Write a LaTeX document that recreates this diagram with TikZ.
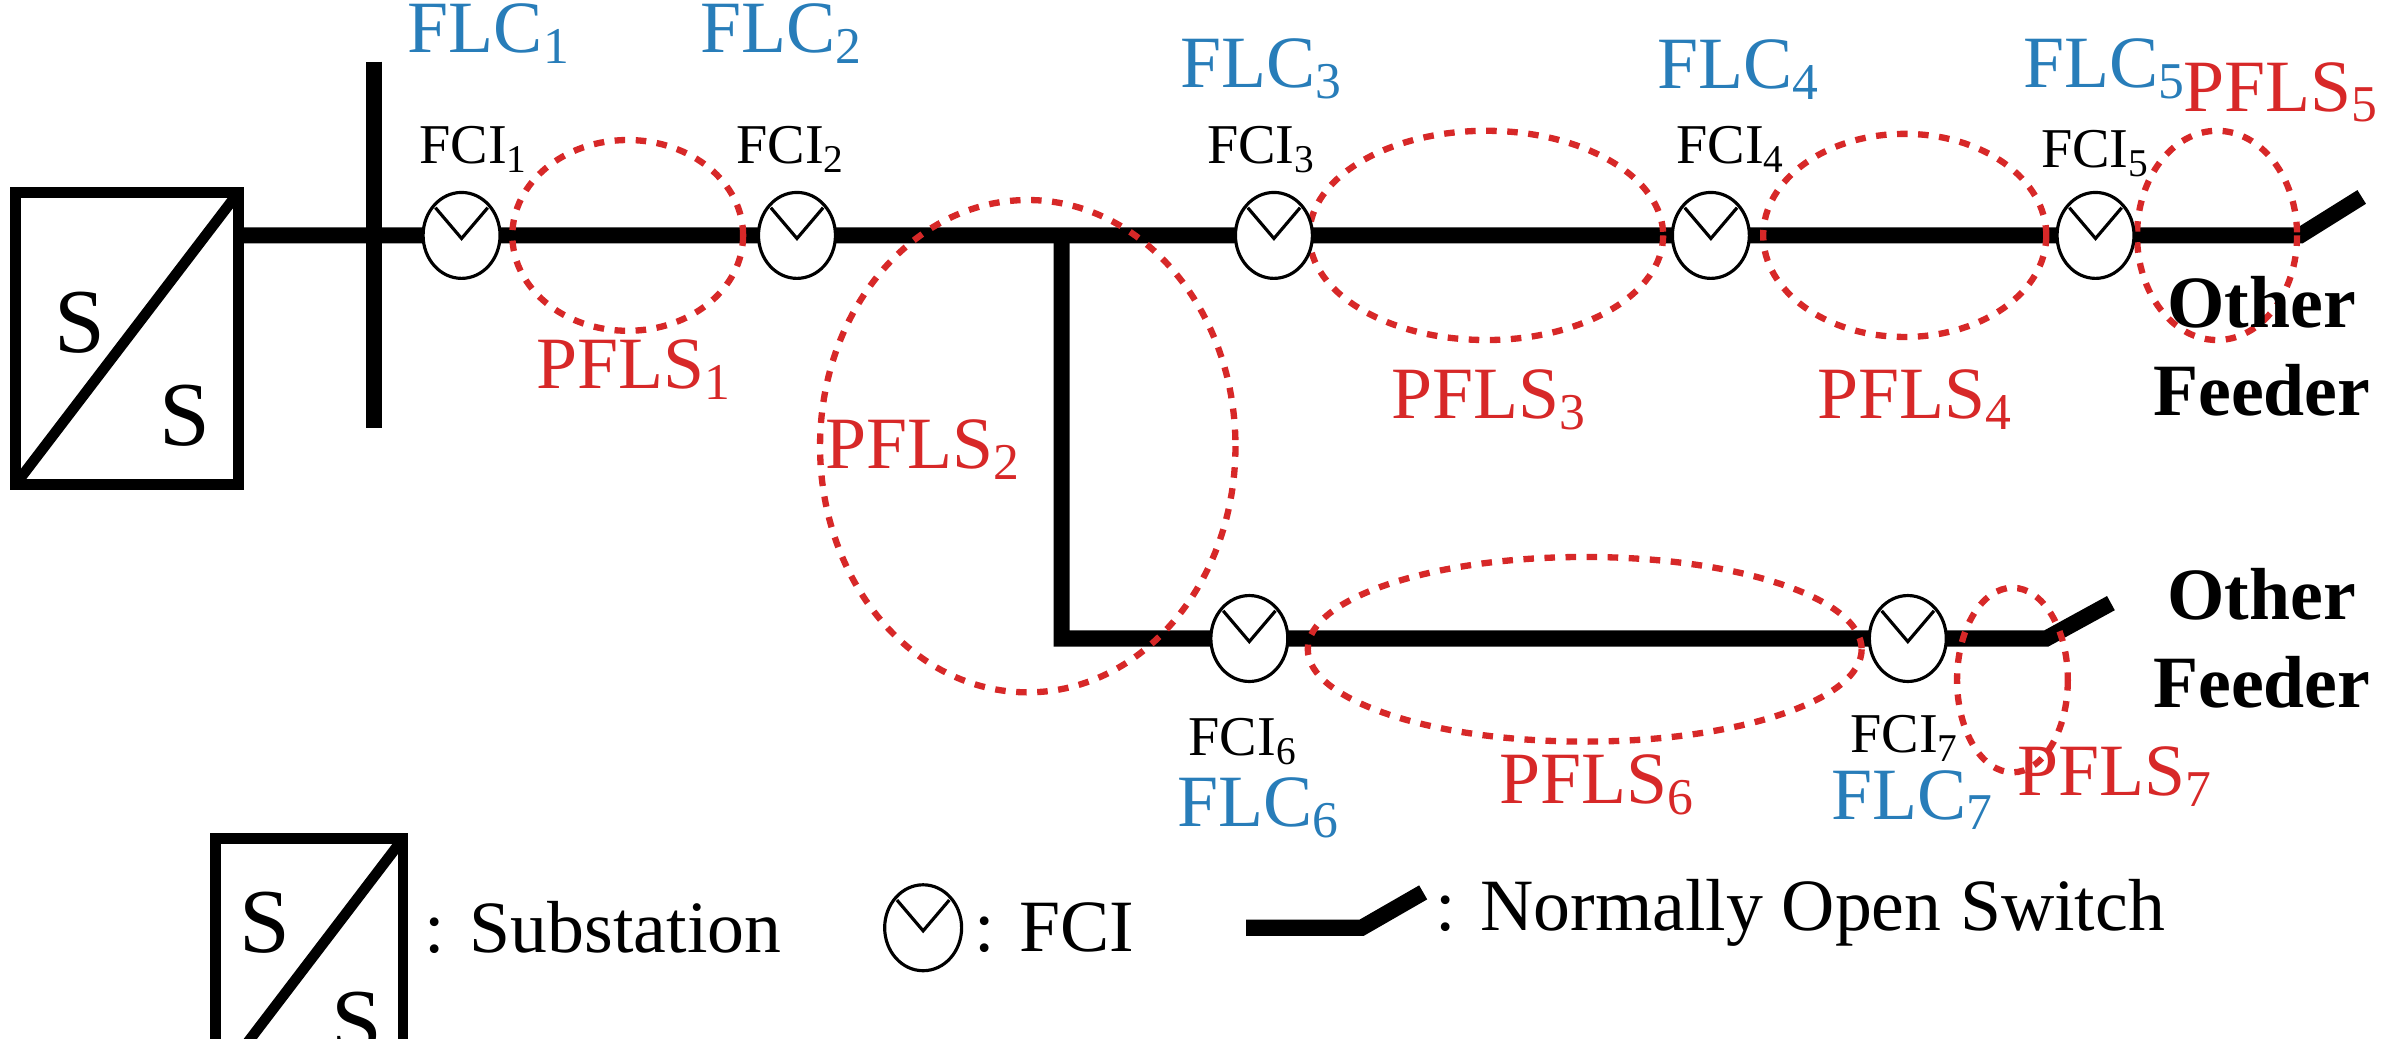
\documentclass[tikz,border=0pt]{standalone}
\usepackage{fontspec}
\setmainfont{Liberation Serif}
\usetikzlibrary{shapes.geometric,calc}
\begin{document}
\begin{tikzpicture}[x=0.01539cm,y=-0.01539cm,
  line/.style={line width=4.6pt},
  fci/.style={draw,ellipse,line width=0.9pt,fill=white,inner sep=0pt,minimum width=0.77cm,minimum height=0.86cm},
  zone/.style={draw=pfred,line width=1.8pt,dash pattern=on 3pt off 3pt},
  flc/.style={text=flcblue,font=\fontsize{21}{21}\selectfont},
  pfl/.style={text=pfred,font=\fontsize{21}{21}\selectfont},
  fcit/.style={font=\fontsize{16}{16}\selectfont},
  feed/.style={font=\bfseries\fontsize{21}{25}\selectfont,align=center},
  big/.style={font=\fontsize{26}{26}\selectfont},
  leg/.style={font=\fontsize{21}{21}\selectfont,anchor=west}]
\definecolor{flcblue}{RGB}{40,125,185}
\definecolor{pfred}{RGB}{215,40,40}
\useasboundingbox (0,0) rectangle (1556,675);
% substation
\draw[line width=3pt] (10,125) rectangle (155,315);
\draw[line width=3pt] (10,315) -- (155,125);
\node[big] (s1) at (52,210) {S};
\node[big] (s2) at (120,270) {S};
% bus
\draw[line] (243,40) -- (243,278);
% lines
\coordinate (m0) at (155,153);
\coordinate (sw1) at (1495,153);
\coordinate (sw1e) at (1535,128);
\coordinate (br) at (690,153);
\coordinate (brc) at (690,415);
\coordinate (sw2) at (1330,415);
\coordinate (sw2e) at (1372,392);
\draw[line] (m0) -- (sw1) -- (sw1e);
\draw[line] (br) -- (brc) -- (sw2) -- (sw2e);
% zones
\draw[zone] (408,153) ellipse (75 and 62);
\draw[zone] (668,290) ellipse (135 and 160);
\draw[zone] (966,153) ellipse (115 and 68);
\draw[zone] (1238,153) ellipse (92 and 66);
\draw[zone] (1441,153) ellipse (52 and 68);
\draw[zone] (1030,422) ellipse (180 and 60);
\draw[zone] (1308,442) ellipse (36 and 60);
% FCIs
\foreach \n/\x/\y in {1/300/153,2/518/153,3/828/153,4/1112/153,5/1362/153,6/812/415,7/1240/415}{
  \node[fci] (f\n) at (\x,\y) {};
  \draw[line width=0.9pt] ($(f\n.center)+(-17,-18)$) -- ($(f\n.center)+(0,2)$) -- ($(f\n.center)+(17,-18)$);
}
% labels
\node[flc] (l1) at (318,22) {FLC\textsubscript{1}};
\node[flc] (l2) at (508,22) {FLC\textsubscript{2}};
\node[flc] (l3) at (820,45) {FLC\textsubscript{3}};
\node[flc] (l4) at (1130,45) {FLC\textsubscript{4}};
\node[flc] (l5) at (1368,45) {FLC\textsubscript{5}};
\node[flc] (l6) at (818,525) {FLC\textsubscript{6}};
\node[flc] (l7) at (1243,520) {FLC\textsubscript{7}};
\node[fcit] (c1) at (308,97) {FCI\textsubscript{1}};
\node[fcit] (c2) at (514,97) {FCI\textsubscript{2}};
\node[fcit] (c3) at (820,97) {FCI\textsubscript{3}};
\node[fcit] (c4) at (1125,97) {FCI\textsubscript{4}};
\node[fcit] (c5) at (1362,100) {FCI\textsubscript{5}};
\node[fcit] (c6) at (808,482) {FCI\textsubscript{6}};
\node[fcit] (c7) at (1238,480) {FCI\textsubscript{7}};
\node[pfl] (p1) at (412,240) {PFLS\textsubscript{1}};
\node[pfl] (p2) at (600,292) {PFLS\textsubscript{2}};
\node[pfl] (p3) at (968,260) {PFLS\textsubscript{3}};
\node[pfl] (p4) at (1245,260) {PFLS\textsubscript{4}};
\node[pfl] (p5) at (1483,60) {PFLS\textsubscript{5}};
\node[pfl] (p6) at (1038,510) {PFLS\textsubscript{6}};
\node[pfl] (p7) at (1375,505) {PFLS\textsubscript{7}};
\node[feed] (o1) at (1470,225) {Other\\Feeder};
\node[feed] (o2) at (1470,415) {Other\\Feeder};
% legend
\draw[line width=3pt] (140,545) rectangle (262,705);
\draw[line width=3pt] (140,705) -- (262,545);
\node[big] (ls1) at (172,600) {S};
\node[big] (ls2) at (232,665) {S};
\node[leg] (lt1) at (268,603) {: Substation};
\node[fci] (lf) at (600,603) {};
\draw[line width=0.9pt] ($(lf.center)+(-17,-18)$) -- ($(lf.center)+(0,2)$) -- ($(lf.center)+(17,-18)$);
\node[leg] (lt2) at (625,603) {: FCI};
\coordinate (lw0) at (810,603);
\coordinate (lw1) at (885,603);
\coordinate (lw2) at (925,580);
\draw[line] (lw0) -- (lw1) -- (lw2);
\node[leg] (lt3) at (925,593) {: Normally Open Switch};
\end{tikzpicture}
\end{document}
